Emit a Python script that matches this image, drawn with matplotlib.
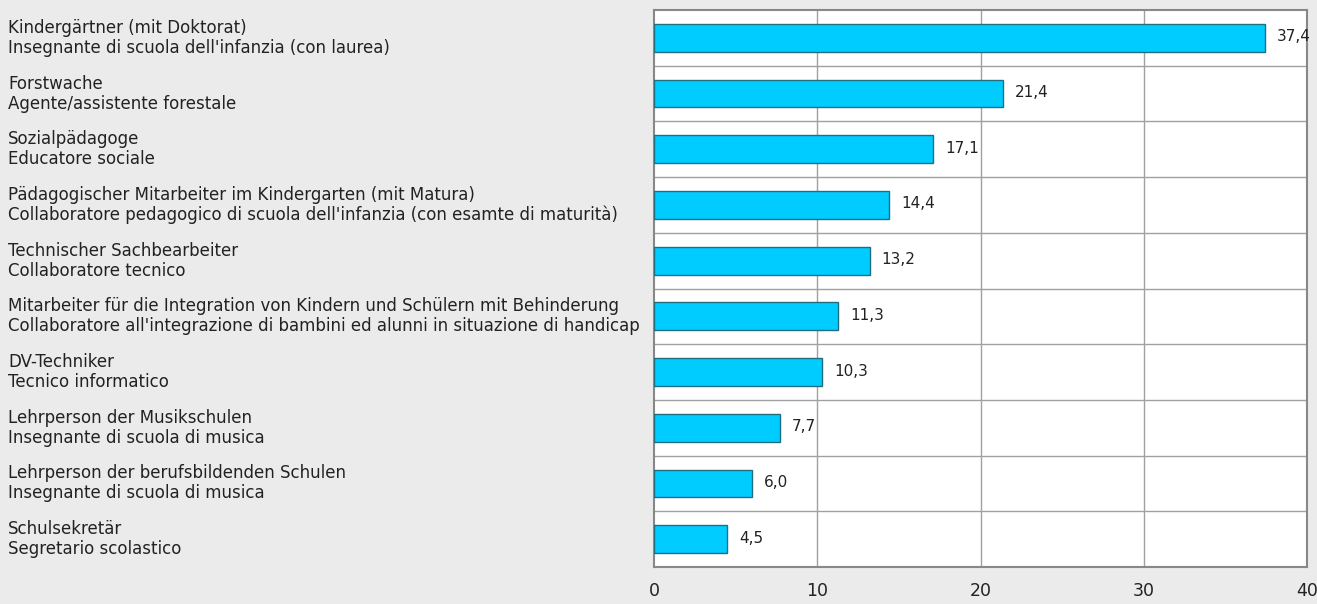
import matplotlib.pyplot as plt

plt.rcParams['font.family'] = ['DejaVu Sans']

categories = [
    "Kindergärtner (mit Doktorat)\nInsegnante di scuola dell'infanzia (con laurea)",
    "Forstwache\nAgente/assistente forestale",
    "Sozialpädagoge\nEducatore sociale",
    "Pädagogischer Mitarbeiter im Kindergarten (mit Matura)\nCollaboratore pedagogico di scuola dell'infanzia (con esamte di maturità)",
    "Technischer Sachbearbeiter\nCollaboratore tecnico",
    "Mitarbeiter für die Integration von Kindern und Schülern mit Behinderung\nCollaboratore all'integrazione di bambini ed alunni in situazione di handicap",
    "DV-Techniker\nTecnico informatico",
    "Lehrperson der Musikschulen\nInsegnante di scuola di musica",
    "Lehrperson der berufsbildenden Schulen\nInsegnante di scuola di musica",
    "Schulsekretär\nSegretario scolastico",
]
values = [37.4, 21.4, 17.1, 14.4, 13.2, 11.3, 10.3, 7.7, 6.0, 4.5]
xticks = [0, 10, 20, 30, 40]

bg = '#ebebeb'
fig = plt.figure(figsize=(13.17, 6.04), dpi=100, facecolor=bg)
ax = fig.add_axes([0.4966, 0.0613, 0.4958, 0.9221])
ax.set_facecolor('white')

n = len(categories)
ypos = list(range(n))
ax.barh(ypos, values, height=0.5, color='#00ccff', edgecolor='#1f6f80', linewidth=1.0, zorder=3)

# value labels
for y, v in zip(ypos, values):
    ax.annotate(('%.1f' % v).replace('.', ','), xy=(v, y), xytext=(12, 1),
                textcoords='offset pixels', va='center', ha='left',
                fontsize=11, color='#222222', zorder=4, annotation_clip=False)

# separators between categories + vertical grid
for k in range(n - 1):
    ax.axhline(k + 0.5, color='#a0a0a0', linewidth=1.0, zorder=1)
for xv in xticks[1:-1]:
    ax.axvline(xv, color='#a0a0a0', linewidth=1.0, zorder=1)

ax.set_xlim(0, 40)
ax.set_ylim(n - 0.5, -0.5)
ax.set_xticks(xticks)
ax.set_xticklabels([str(t) for t in xticks], fontsize=12.5, color='#222222')
ax.tick_params(axis='x', length=0, pad=11)
ax.set_yticks([])
for s in ax.spines.values():
    s.set_color('#888888')
    s.set_linewidth(1.5)

# category labels, left aligned at figure edge
for y, lab in zip(ypos, categories):
    ax.annotate(lab, xy=(0, y), xycoords=('figure fraction', 'data'),
                xytext=(8, 0), textcoords='offset pixels',
                ha='left', va='center', fontsize=12, color='#222222', linespacing=1.15)

fig.savefig('out.png', dpi=100, facecolor=bg)
